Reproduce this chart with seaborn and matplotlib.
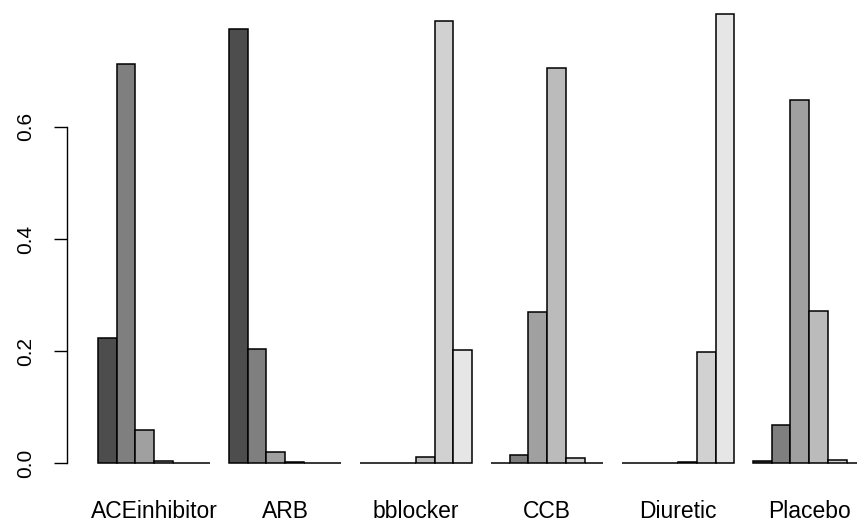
import matplotlib
matplotlib.use("Agg")
import matplotlib.pyplot as plt
import seaborn as sns
import pandas as pd

# Proportion of each drug class falling into six ordered levels
drugs = ["ACEinhibitor", "ARB", "bblocker", "CCB", "Diuretic", "Placebo"]
levels = ["L1", "L2", "L3", "L4", "L5", "L6"]
ace = [0.224, 0.712, 0.060, 0.005, 0.0, 0.0]
arb = [0.774, 0.204, 0.021, 0.002, 0.0, 0.0]
bblocker = [0.0, 0.0, 0.0015, 0.012, 0.789, 0.202]
ccb = [0.001, 0.016, 0.270, 0.705, 0.009, 0.001]
diuretic = [0.0, 0.0, 0.0, 0.003, 0.198, 0.801]
placebo = [0.004, 0.069, 0.648, 0.272, 0.006, 0.0]
yticks = [0.0, 0.2, 0.4, 0.6]
ytick_labels = ["0.0", "0.2", "0.4", "0.6"]

series = [ace, arb, bblocker, ccb, diuretic, placebo]
df = pd.DataFrame(
    [(d, lv, v) for d, vals in zip(drugs, series) for lv, v in zip(levels, vals)],
    columns=["drug", "level", "prop"],
)

# grey ramp from dark to light (gamma-corrected)
greys = ["#4D4D4D", "#7F7F7F", "#A0A0A0", "#BBBBBB", "#D1D1D1", "#E6E6E6"]

sns.set_style("white")
plt.rcParams["font.family"] = ["Liberation Sans", "DejaVu Sans"]
plt.rcParams["text.color"] = "black"
plt.rcParams["xtick.color"] = "black"
plt.rcParams["ytick.color"] = "black"

W, H = 857, 523
fig = plt.figure(figsize=(W / 100, H / 100), dpi=100)
left_px, bottom_px = 67.3, 481.5
ax = fig.add_axes([left_px / W, (H - bottom_px) / H, (W - left_px) / W, bottom_px / H])

sns.barplot(
    data=df, x="drug", y="prop", hue="level", order=drugs, hue_order=levels,
    palette=greys, width=6 / 7, gap=0, errorbar=None, edgecolor="black",
    linewidth=1.1, saturation=1, legend=False, ax=ax,
)

ax.set_xlim(-0.6614, 5.365)
ax.set_ylim(-0.0321, 0.8262)
ax.set_xlabel("")
ax.set_ylabel("")

for s in ["top", "right", "bottom"]:
    ax.spines[s].set_visible(False)
ax.spines["left"].set_bounds(0, 0.6)
ax.spines["left"].set_linewidth(1.0)
ax.spines["left"].set_color("black")

ax.set_yticks(yticks)
ax.set_yticklabels(ytick_labels, rotation=90, va="center", fontsize=15)
ax.tick_params(axis="y", length=9.4, width=1.0, color="black", labelcolor="black",
               pad=14, left=True)
ax.tick_params(axis="x", length=0, pad=13, labelsize=16.5, labelcolor="black")

fig.savefig("out.png", dpi=100, facecolor="white")
